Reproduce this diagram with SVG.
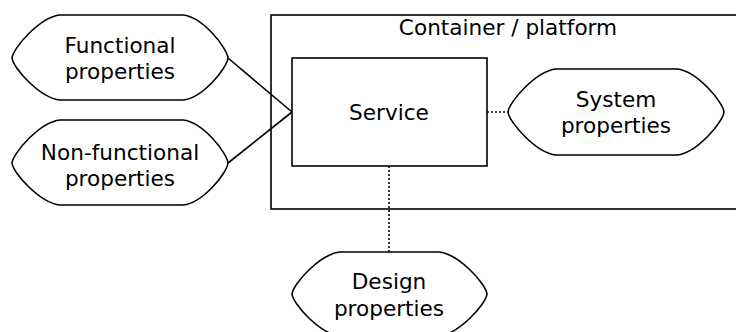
<svg xmlns="http://www.w3.org/2000/svg" width="736" height="332" viewBox="0 0 736 332">
<style>
.s{fill:#fff;stroke:#000;stroke-width:1.6}
.c{fill:none;stroke:#000;stroke-width:1.6}
.d{fill:none;stroke:#000;stroke-width:1.6;stroke-dasharray:2 2}
text{font-family:"DejaVu Sans",sans-serif;font-size:21.6px;text-anchor:middle;fill:#000}
</style>
<rect width="736" height="332" fill="#fff"/>
<g id="container">
<rect class="s" x="271" y="15" width="475" height="194"/>
<text x="508" y="35">Container / platform</text>
</g>
<g id="connectors">
<line class="c" x1="228" y1="58" x2="292" y2="112"/>
<line class="c" x1="228" y1="163" x2="292" y2="112"/>
<line class="d" x1="487" y1="112" x2="508" y2="112"/>
<line class="d" x1="389" y1="166" x2="389" y2="252"/>
</g>
<g id="service">
<rect class="s" x="292" y="58" width="195" height="108"/>
<text x="389" y="120">Service</text>
</g>
<g id="functional">
<path class="s" d="M12,58 C13,48 40,17 60,15 L183,15 C203,17 227,48 228,58 C227,68 203,98 183,100 L60,100 C40,98 13,68 12,58 Z"/>
<text x="120" y="53">Functional</text>
<text x="120" y="79">properties</text>
</g>
<g id="nonfunctional">
<path class="s" d="M12,163 C13,153 40,122 60,120 L183,120 C203,122 227,153 228,163 C227,173 203,203 183,205 L60,205 C40,203 13,173 12,163 Z"/>
<text x="120" y="160">Non-functional</text>
<text x="120" y="186">properties</text>
</g>
<g id="system">
<path class="s" d="M508,112 C509,102 536,71 556,69 L677,69 C697,71 723,102 724,112 C723,122 697,153 677,155 L556,155 C536,153 509,122 508,112 Z"/>
<text x="616" y="107">System</text>
<text x="616" y="133">properties</text>
</g>
<g id="design">
<path class="s" d="M292,294 C293,284 320,254 340,252 L439,252 C459,254 486,284 487,294 C486,304 459,334 439,336 L340,336 C320,334 293,304 292,294 Z"/>
<text x="389" y="289">Design</text>
<text x="389" y="316">properties</text>
</g>
</svg>
